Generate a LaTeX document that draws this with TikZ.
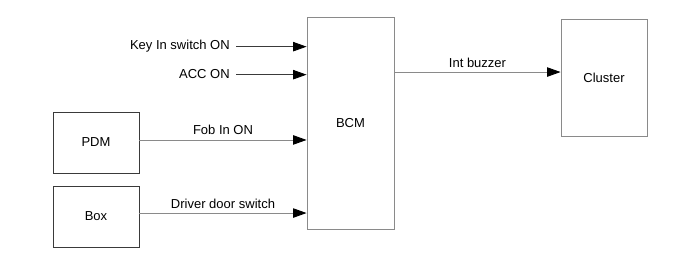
\documentclass[tikz,border=0pt]{standalone}
\usepackage{fontspec}
\setmainfont{Liberation Sans}
\usepackage{xcolor}
\usetikzlibrary{positioning, arrows.meta}
\definecolor{edge}{HTML}{8A8A8A}
\definecolor{dark}{HTML}{3A3A3A}

\begin{document}
\begin{tikzpicture}[
  x=0.75pt, y=-0.75pt,
  every node/.style={font=\fontsize{9.75}{12}\selectfont},
  block/.style={
    draw=edge, line width=0.65pt, minimum width=64.5pt, minimum height=45.75pt,
    inner sep=0pt, align=center
  },
  signal/.style={anchor=east, inner sep=0pt},
  arrow/.style={-{Triangle[length=10pt, width=7pt, black]}, line width=0.65pt, draw=dark}
]
  \useasboundingbox (0,0) rectangle (700,264);

  \node[block, minimum width=65.25pt, minimum height=159pt] (bcm) at (350.5,123) {BCM};
  \node[block, minimum height=87.75pt] (cluster) at (604,77.5) {Cluster};
  \node[block, draw=dark] (pdm) at (96,142.5) {PDM};
  \node[block, draw=dark] (box) at (96,216.5) {Box};

  \node[signal] (key) at (230,46) {Key In switch ON};
  \node[signal] (acc) at (230,74) {ACC ON};

  \draw[arrow] ([xshift=4.5pt, yshift=-0.5pt]key.east) -- ([yshift=-0.5pt]key.east -| bcm.west);
  \draw[arrow] ([xshift=4.5pt, yshift=-0.5pt]acc.east) -- ([yshift=-0.5pt]acc.east -| bcm.west);
  \draw[arrow, draw=edge] ([yshift=1.9pt]pdm.east) -- ([yshift=1.9pt]pdm.east -| bcm.west)
    node[midway, above, black] {Fob In ON};
  \draw[arrow, draw=edge] ([yshift=2.6pt]box.east) -- ([yshift=2.6pt]box.east -| bcm.west)
    node[midway, above, black] {Driver door switch};
  \draw[arrow, draw=edge] ([yshift=4.1pt]cluster.west -| bcm.east) -- ([yshift=4.1pt]cluster.west)
    node[midway, above, black] {Int buzzer};
\end{tikzpicture}
\end{document}
